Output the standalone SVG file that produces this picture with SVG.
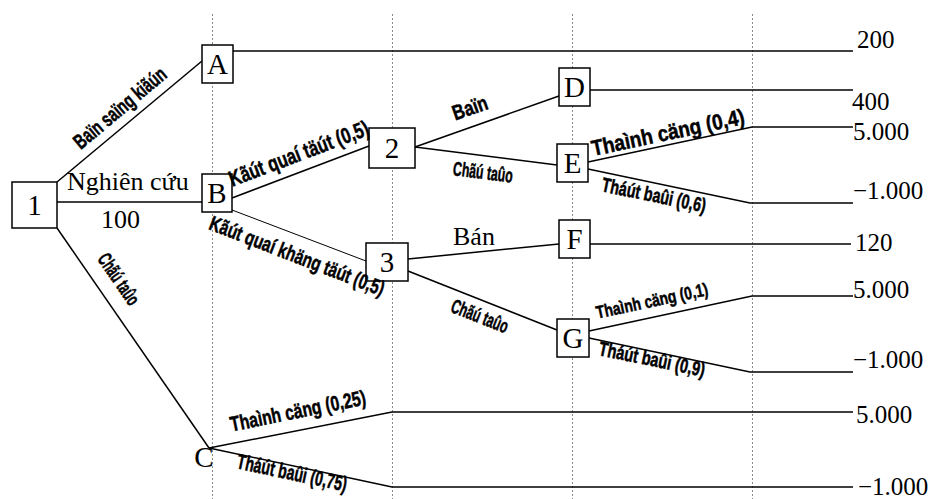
<svg xmlns="http://www.w3.org/2000/svg" width="934" height="499" viewBox="0 0 934 499">
<style>
.grid{stroke:#8a8a8a;stroke-width:1;stroke-dasharray:2,2;fill:none}
.ln{stroke:#000;stroke-width:1.5;fill:none}
.thin{stroke:#000;stroke-width:1;fill:none}
.box{fill:#fff;stroke:#000;stroke-width:1.5}
.nt{font-family:"Liberation Serif","Times New Roman",serif;font-size:29px;fill:#000;text-anchor:middle}
.val{font-family:"Liberation Serif","Times New Roman",serif;font-size:25px;fill:#000}
.tx{font-family:"Liberation Serif","Times New Roman",serif;font-size:26px;fill:#000}
.lb{font-family:"Liberation Sans",Arial,sans-serif;font-weight:bold;fill:#000;stroke:#000;stroke-width:0.5;text-anchor:middle}
</style>
<rect width="934" height="499" fill="#fff"/>
<g id="grid">
<line class="grid" x1="212.5" y1="14" x2="212.5" y2="499"/>
<line class="grid" x1="392.5" y1="14" x2="392.5" y2="499"/>
<line class="grid" x1="572.5" y1="14" x2="572.5" y2="499"/>
<line class="grid" x1="752.5" y1="14" x2="752.5" y2="499"/>
</g>
<g id="connectors">
<line class="ln" x1="57" y1="182" x2="202" y2="61"/>
<line class="ln" x1="57" y1="202" x2="202" y2="202"/>
<line class="ln" x1="57" y1="228" x2="209" y2="448"/>
<line class="ln" x1="233" y1="51" x2="853" y2="51"/>
<line class="ln" x1="232" y1="198" x2="369" y2="146"/>
<line class="thin" x1="232" y1="210" x2="366" y2="261"/>
<line class="ln" x1="415" y1="147" x2="559" y2="96"/>
<line class="ln" x1="415" y1="147" x2="557" y2="165"/>
<line class="ln" x1="590" y1="90" x2="853" y2="90"/>
<polyline class="ln" points="588,162 752,127 853,127"/>
<polyline class="ln" points="588,169 750,203 853,203"/>
<line class="ln" x1="408" y1="259" x2="559" y2="244"/>
<line class="ln" x1="590" y1="244" x2="851" y2="244"/>
<line class="ln" x1="408" y1="271" x2="557" y2="330"/>
<polyline class="ln" points="589,331 752,296 853,296"/>
<polyline class="ln" points="589,338 750,372 853,372"/>
<polyline class="ln" points="209,448 392,412 853,412"/>
<polyline class="ln" points="209,448 392,487 853,487"/>
</g>
<g id="node1"><rect class="box" x="12" y="182" width="45" height="46"/><text class="nt" x="34.5" y="215">1</text></g>
<g id="nodeA"><rect class="box" x="202" y="45" width="31" height="38"/><text class="nt" x="217.5" y="74">A</text></g>
<g id="nodeB"><rect class="box" x="202" y="174" width="30" height="38"/><text class="nt" x="217" y="203">B</text></g>
<g id="node2"><rect class="box" x="369" y="128" width="46" height="40"/><text class="nt" x="392" y="158">2</text></g>
<g id="node3"><rect class="box" x="366" y="243" width="42" height="38"/><text class="nt" x="387" y="272">3</text></g>
<g id="nodeD"><rect class="box" x="559" y="68" width="31" height="38"/><text class="nt" x="574.5" y="97">D</text></g>
<g id="nodeE"><rect class="box" x="557" y="144" width="31" height="38"/><text class="nt" x="572.5" y="173">E</text></g>
<g id="nodeF"><rect class="box" x="559" y="220" width="31" height="38"/><text class="nt" x="574.5" y="249">F</text></g>
<g id="nodeG"><rect class="box" x="557" y="319" width="32" height="38"/><text class="nt" x="573" y="348">G</text></g>
<g id="nodeC"><text class="nt" x="204" y="467">C</text></g>
<g id="labels">
<text class="tx" x="67" y="190">Nghiên cứu</text>
<text class="tx" x="101" y="228">100</text>
<text class="tx" x="453" y="245">Bán</text>
<text class="lb" font-size="21" transform="translate(120,108) rotate(-40)" dy="7" textLength="114" lengthAdjust="spacingAndGlyphs">Baïn saïng kiãún</text>
<text class="lb" font-size="22" transform="translate(299,154) rotate(-20.8)" dy="7" textLength="148" lengthAdjust="spacingAndGlyphs">Kãút quaí täút (0,5)</text>
<text class="lb" font-size="21" transform="translate(297,256) rotate(21.2)" dy="7" textLength="186" lengthAdjust="spacingAndGlyphs">Kãút quaí khäng täút (0,5)</text>
<text class="lb" font-size="21" transform="translate(470,108) rotate(-19.5)" dy="7" textLength="36" lengthAdjust="spacingAndGlyphs">Baïn</text>
<text class="lb" font-size="20" transform="translate(483,172) rotate(7.2)" dy="7" textLength="60" lengthAdjust="spacingAndGlyphs">Chãú taûo</text>
<text class="lb" font-size="22" transform="translate(668,133) rotate(-12)" dy="7" textLength="156" lengthAdjust="spacingAndGlyphs">Thaình cäng (0,4)</text>
<text class="lb" font-size="20" transform="translate(654,195) rotate(11.7)" dy="7" textLength="106" lengthAdjust="spacingAndGlyphs">Tháút baûi (0,6)</text>
<text class="lb" font-size="20" transform="translate(480,316) rotate(21.6)" dy="7" textLength="60" lengthAdjust="spacingAndGlyphs">Chãú taûo</text>
<text class="lb" font-size="18" transform="translate(652,301) rotate(-12.1)" dy="6" textLength="114" lengthAdjust="spacingAndGlyphs">Thaình cäng (0,1)</text>
<text class="lb" font-size="20" transform="translate(652,359) rotate(11.7)" dy="7" textLength="108" lengthAdjust="spacingAndGlyphs">Tháút baûi (0,9)</text>
<text class="lb" font-size="20" transform="translate(119,279) rotate(55.5)" dy="7" textLength="58" lengthAdjust="spacingAndGlyphs">Chãú taûo</text>
<text class="lb" font-size="21" transform="translate(298,411) rotate(-11.5)" dy="7" textLength="138" lengthAdjust="spacingAndGlyphs">Thaình cäng (0,25)</text>
<text class="lb" font-size="21" transform="translate(292,473) rotate(12.1)" dy="7" textLength="112" lengthAdjust="spacingAndGlyphs">Tháút baûi (0,75)</text>
</g>
<g id="values">
<text class="val" x="857" y="48">200</text>
<text class="val" x="852" y="110">400</text>
<text class="val" x="853" y="140">5.000</text>
<text class="val" x="853" y="199">−1.000</text>
<text class="val" x="855" y="251">120</text>
<text class="val" x="853" y="298">5.000</text>
<text class="val" x="853" y="368">−1.000</text>
<text class="val" x="856" y="423">5.000</text>
<text class="val" x="858" y="495">−1.000</text>
</g>
</svg>
